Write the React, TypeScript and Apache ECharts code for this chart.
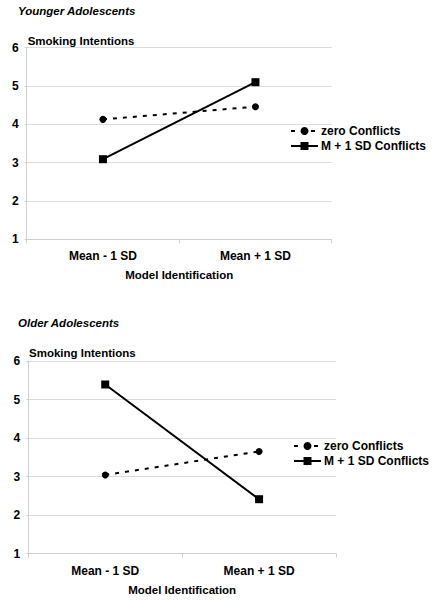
import React, { useEffect, useRef } from "react";
import * as echarts from "echarts";

const categories = ["Mean - 1 SD", "Mean + 1 SD"];
const seriesNames = ["zero Conflicts", "M + 1 SD Conflicts"];
const youngerZero = [4.13, 4.46];
const youngerHigh = [3.09, 5.1];
const olderZero = [3.04, 3.65];
const olderHigh = [5.39, 2.41];
const yTicks = [1, 6, 1]; // min, max, interval
const panelTitles = ["Younger Adolescents", "Older Adolescents"];
const yName = "Smoking Intentions";
const xName = "Model Identification";

const FONT = "'Liberation Sans', Arial, sans-serif";

export default function App() {
  const ref = useRef<HTMLDivElement>(null);
  useEffect(() => {
    if (!ref.current) return;
    const chart = echarts.init(ref.current, undefined, { renderer: "svg" });
    const grids = [
      { left: 26.7, top: 47.7, width: 305, height: 191.6 },
      { left: 28.3, top: 361, width: 307.7, height: 192.5 },
    ];
    const xAxis = grids.map((_, i) => ({
      type: "category",
      gridIndex: i,
      data: categories,
      boundaryGap: true,
      axisLine: { show: true, lineStyle: { color: "#cfcfcf", width: 1 } },
      axisTick: { show: true, length: 4, lineStyle: { color: "#cfcfcf" } },
      axisLabel: { color: "#000", fontWeight: "bold", fontSize: 12, fontFamily: FONT, margin: 11 },
      name: xName,
      nameLocation: "middle",
      nameGap: 30,
      nameTextStyle: { color: "#000", fontWeight: "bold", fontSize: 11.5, fontFamily: FONT },
    }));
    const yAxis = grids.map((_, i) => ({
      type: "value",
      gridIndex: i,
      min: yTicks[0],
      max: yTicks[1],
      interval: yTicks[2],
      axisLine: { show: true, lineStyle: { color: "#cfcfcf", width: 1 } },
      axisTick: { show: true, length: 2, lineStyle: { color: "#cfcfcf" } },
      splitLine: { show: true, lineStyle: { color: "#dcdcdc", width: 1 } },
      axisLabel: { color: "#000", fontWeight: "bold", fontSize: 12, fontFamily: FONT, margin: 8 },
    }));
    const mkSeries = (name: string, data: number[], idx: number, dashed: boolean) => ({
      type: "line",
      name,
      xAxisIndex: idx,
      yAxisIndex: idx,
      data,
      symbol: dashed ? "circle" : "rect",
      symbolSize: dashed ? 7 : 8,
      itemStyle: { color: "#000" },
      lineStyle: { color: "#000", width: 2, type: dashed ? [4, 6] : "solid" },
      emphasis: { disabled: true },
    });
    const series = [
      mkSeries(seriesNames[0], youngerZero, 0, true),
      mkSeries(seriesNames[1], youngerHigh, 0, false),
      mkSeries(seriesNames[0], olderZero, 1, true),
      mkSeries(seriesNames[1], olderHigh, 1, false),
    ];
    const legendTops = [125, 440];
    const legend = legendTops.map((top, i) => ({
      left: i === 0 ? 290 : 293,
      top,
      padding: 0,
      orient: "vertical",
      data: seriesNames,
      itemWidth: 27,
      itemHeight: 10,
      itemGap: 3,
      selectedMode: false,
      textStyle: { color: "#000", fontWeight: "bold", fontSize: 12, fontFamily: FONT, padding: [0, 0, 0, -2] },
    }));
    const titleYs = [12.3, 324.3];
    const yNameYs = [42.3, 354.3];
    const yNameXs = [27.7, 29];
    const graphic: any[] = [];
    panelTitles.forEach((t, i) => {
      graphic.push({
        type: "text",
        left: 18,
        top: titleYs[i] - 7,
        style: { text: t, fill: "#000", font: `italic bold 11.5px ${FONT}` },
      });
      graphic.push({
        type: "text",
        left: yNameXs[i],
        top: yNameYs[i] - 7,
        style: { text: yName, fill: "#000", font: `bold 11.5px ${FONT}` },
      });
    });
    chart.setOption({
      animation: false,
      backgroundColor: "#fff",
      grid: grids,
      xAxis,
      yAxis,
      series,
      legend,
      graphic,
    } as any);
    return () => chart.dispose();
  }, []);
  return (
    <div
      ref={ref}
      style={{ position: "absolute", left: 0, top: 0, width: 437, height: 600 }}
    />
  );
}
